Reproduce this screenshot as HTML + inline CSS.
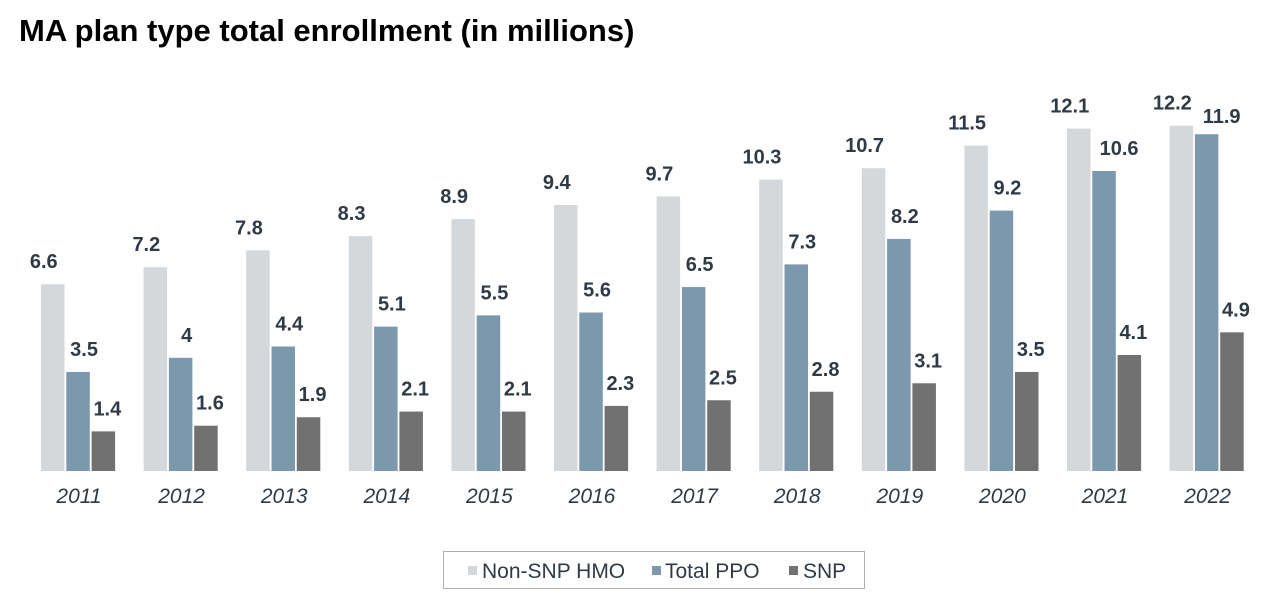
<!DOCTYPE html>
<html><head><meta charset="utf-8"><style>
body{margin:0;background:#fff;width:1280px;height:603px;overflow:hidden;font-family:"Liberation Sans",sans-serif}
</style></head><body>
<svg width="1280" height="603" xmlns="http://www.w3.org/2000/svg" font-family="Liberation Sans, sans-serif">
<text x="19" y="41" font-size="31" font-weight="bold" fill="#000">MA plan type total enrollment (in millions)</text>
<g id="bars"></g>
<rect x="443.5" y="551.5" width="421" height="37" fill="#fff" stroke="#a9afb5"/>
<rect x="468" y="566" width="9" height="9" fill="#d5d8da"/>
<text x="482" y="578" font-size="21" fill="#2f3a45">Non-SNP HMO</text>
<rect x="652" y="566" width="9" height="9" fill="#7b98ad"/>
<text x="665" y="578" font-size="21" fill="#2f3a45">Total PPO</text>
<rect x="789" y="566" width="9" height="9" fill="#717171"/>
<text x="803" y="578" font-size="21" fill="#2f3a45">SNP</text>
</svg>
<script>
const d=[[2011,6.6,3.5,1.4],[2012,7.2,4,1.6],[2013,7.8,4.4,1.9],[2014,8.3,5.1,2.1],[2015,8.9,5.5,2.1],[2016,9.4,5.6,2.3],[2017,9.7,6.5,2.5],[2018,10.3,7.3,2.8],[2019,10.7,8.2,3.1],[2020,11.5,9.2,3.5],[2021,12.1,10.6,4.1],[2022,12.2,11.9,4.9]];
const cols=['#d5d8da','#7b98ad','#717171'];
let s='';const B=471,k=28.3;
d.forEach((r,i)=>{const x0=41+i*102.6;
for(let j=0;j<3;j++){const x=x0+j*25.3,h=r[j+1]*k,y=B-h;
const v=r[j+1];
let off=j==0?-9:j==1?(v>=10?15:6):4;
let dy=(i==11&&j==1)?11:16;
s+=`<rect x="${x}" y="${y}" width="23.5" height="${h}" fill="${cols[j]}"/>`;
s+=`<text x="${x+11.75+off}" y="${y-dy}" font-size="20" font-weight="bold" fill="#2f3a45" text-anchor="middle">${v}</text>`;}
s+=`<text x="${x0+38}" y="503" font-size="21" font-style="italic" fill="#2f3a45" text-anchor="middle">${r[0]}</text>`;});
document.getElementById('bars').innerHTML=s;
</script>
</body></html>
